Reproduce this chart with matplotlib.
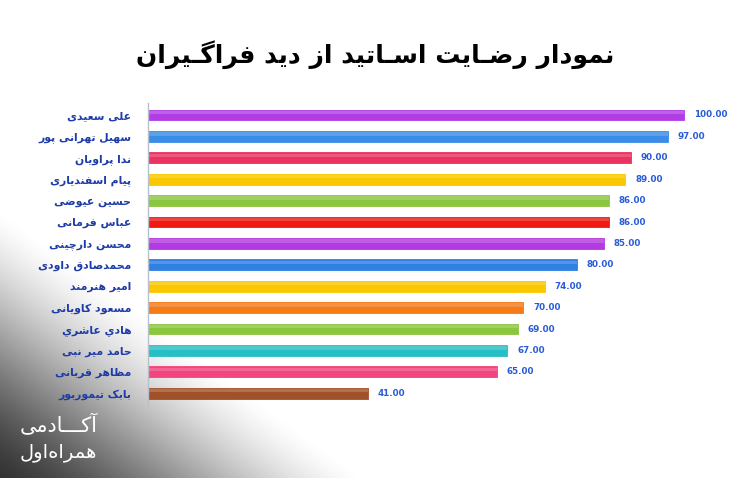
"""Persian horizontal bar chart: teacher satisfaction from students' view."""
import numpy as np
import matplotlib
matplotlib.use("Agg")
import matplotlib.pyplot as plt

names = [
    "علی سعیدی", "سهیل تهرانی پور", "ندا پراویان", "پیام اسفندیاری",
    "حسین عیوضی", "عباس فرمانی", "محسن دارچینی", "محمدصادق داودی",
    "امیر هنرمند", "مسعود کاویانی", "هادي عاشري", "حامد میر نبی",
    "مظاهر قربانی", "بابک تیموربور",
]
scores = [100, 97, 90, 89, 86, 86, 85, 80, 74, 70, 69, 67, 65, 41]
colors = [
    "#b03ee4", "#3a8ce6", "#ea3360", "#fbc800", "#8bc640", "#f01a12",
    "#b23ae0", "#2f80e0", "#fbc700", "#f57a18", "#8cc63f", "#26bfc4",
    "#f2447e", "#a0512a",
]
title = "نمودار رضـایت اسـاتید از دید فراگـیران"
brand = ["آکـــادمی", "همراه\u200cاول"]

# --- minimal Arabic/Persian shaping (matplotlib has no bidi/shaping) ---
FOUR = {
    "\u0628": 0xFE8F, "\u062A": 0xFE95, "\u062B": 0xFE99, "\u062C": 0xFE9D,
    "\u062D": 0xFEA1, "\u062E": 0xFEA5, "\u0633": 0xFEB1, "\u0634": 0xFEB5,
    "\u0635": 0xFEB9, "\u0636": 0xFEBD, "\u0637": 0xFEC1, "\u0638": 0xFEC5,
    "\u0639": 0xFEC9, "\u063A": 0xFECD, "\u0641": 0xFED1, "\u0642": 0xFED5,
    "\u0644": 0xFEDD, "\u0645": 0xFEE1, "\u0646": 0xFEE5, "\u0647": 0xFEE9,
    "\u064A": 0xFEF1, "\u067E": 0xFB56, "\u0686": 0xFB7A, "\u06A9": 0xFB8E,
    "\u06AF": 0xFB92, "\u06CC": 0xFBFC,
}
TWO = {
    "\u0622": 0xFE81, "\u0627": 0xFE8D, "\u062F": 0xFEA9, "\u0630": 0xFEAB,
    "\u0631": 0xFEAD, "\u0632": 0xFEAF, "\u0648": 0xFEED, "\u0698": 0xFB8A,
}
FORMS = {k: tuple(range(v, v + 4)) for k, v in FOUR.items()}
FORMS.update({k: (v, v + 1) for k, v in TWO.items()})
FORMS["\u0640"] = (0x0640,) * 4


def shape(text):
    chars = list(text)
    out = []
    for i, ch in enumerate(chars):
        if ch == "\u200c":
            continue
        f = FORMS.get(ch)
        if f is None:
            out.append(ch)
            continue
        prev = chars[i - 1] if i > 0 else ""
        nxt = chars[i + 1] if i + 1 < len(chars) else ""
        jp = prev in FORMS and len(FORMS[prev]) == 4
        jn = len(f) == 4 and nxt in FORMS
        k = 3 if (jp and jn) else 1 if jp else 2 if jn else 0
        out.append(chr(f[k]))
    return "".join(reversed(out))


plt.rcParams["font.family"] = ["DejaVu Sans"]

fig = plt.figure(figsize=(7.48, 4.78), dpi=100)

# gray corner gradient in the background (bottom-left)
bg = fig.add_axes([0, 0, 1, 1], zorder=0)
xx, yy = np.meshgrid(np.linspace(0, 748, 374), np.linspace(0, 478, 239))
d = np.clip(xx / 360 + yy / 265, 0, 1)
smooth = d * d * (3 - 2 * d)
shade = 0.2 + 0.8 * (0.5 * d + 0.5 * smooth)
bg.imshow(shade, cmap="gray", vmin=0, vmax=1, origin="lower",
          extent=[0, 748, 0, 478], aspect="auto", interpolation="bilinear")
bg.set_axis_off()

ax = fig.add_axes([148 / 748, 1 - 405 / 478, 590 / 748, 302 / 478], zorder=1)
ax.patch.set_alpha(0)
y = np.arange(len(names))
ax.barh(y, scores, height=0.5, color=colors, edgecolor=colors, linewidth=0.6)
# light highlight on the top half of every bar
ax.barh(y - 0.12, scores, height=0.16, color="white", alpha=0.18, linewidth=0)

for yi, v in zip(y, scores):
    ax.annotate(f"{v:.2f}", (v, yi), xytext=(7, 0), textcoords="offset points",
                va="center", ha="left", fontsize=6.3, fontweight="bold",
                color="#2a5bd7")

ax.set_xlim(0, 110)
ax.set_ylim(len(names) - 0.45, -0.56)
ax.set_yticks(y)
ax.set_yticklabels([shape(n) for n in names], fontsize=7.8, fontweight="bold",
                   color="#1e3ca8")
ax.tick_params(axis="y", length=0, pad=12)
ax.set_xticks([])
for s in ["top", "right", "bottom"]:
    ax.spines[s].set_visible(False)
ax.spines["left"].set_color("#b8c0cc")
ax.spines["left"].set_linewidth(1)

fig.text(375 / 748, 1 - 55 / 478, shape(title), ha="center", va="center",
         fontsize=18, fontweight="bold", color="black")

fig.text(20 / 748, 1 - 425 / 478, shape(brand[0]), ha="left", va="center",
         fontsize=15, color="white")
fig.text(20 / 748, 1 - 452 / 478, shape(brand[1]), ha="left", va="center",
         fontsize=14, color="white")

fig.savefig("out.png", dpi=100)
